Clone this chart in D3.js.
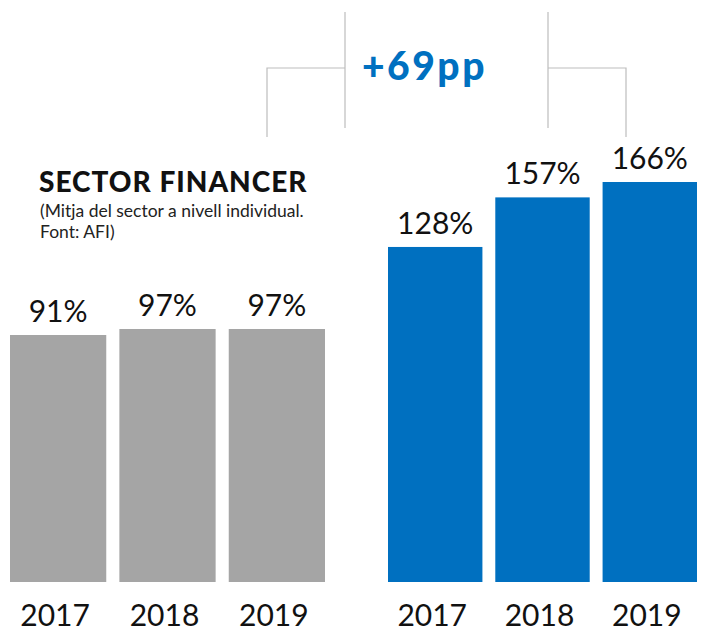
<!DOCTYPE html>
<html>
<head>
<meta charset="utf-8">
<script src="https://cdn.jsdelivr.net/npm/d3@7"></script>
<style>
  html, body { margin: 0; padding: 0; background: #fff; }
  svg { display: block; font-family: Lato, "Noto Sans", sans-serif; }
</style>
</head>
<body>
<div id="chart"></div>
<script>
const years = ['2017', '2018', '2019'];
const sectorValues = [91, 97, 97];      // grey, sector average
const companyValues = [128, 157, 166];  // blue
const diffLabel = '+69pp';
const titleText = 'SECTOR FINANCER';
const noteLines = ['(Mitja del sector a nivell individual.', 'Font: AFI)'];

const width = 702, height = 633;
const baseline = 582;

const svg = d3.select('#chart').append('svg')
  .attr('width', width)
  .attr('height', height);

// each panel has its own scale, the infographic does not start bars at zero
const panels = [
  {
    values: sectorValues,
    color: '#a5a5a5',
    x: d3.scaleBand().domain(years).range([10, 325]).paddingInner(0.12),
    y: d3.scaleLinear().domain([-156, 97]).range([baseline, 329])
  },
  {
    values: companyValues,
    color: '#0070c0',
    x: d3.scaleBand().domain(years).range([388, 697]).paddingInner(0.12),
    y: d3.scaleLinear().domain([-68, 166]).range([baseline, 182])
  }
];

panels.forEach(p => {
  const g = svg.append('g');
  const rows = years.map((yr, i) => ({ year: yr, value: p.values[i] }));

  g.selectAll('rect')
    .data(rows)
    .enter().append('rect')
    .attr('x', d => p.x(d.year))
    .attr('y', d => p.y(d.value))
    .attr('width', p.x.bandwidth())
    .attr('height', d => baseline - p.y(d.value))
    .attr('fill', p.color);

  // value labels above bars
  g.selectAll('text.val')
    .data(rows)
    .enter().append('text')
    .attr('class', 'val')
    .attr('x', d => p.x(d.year) + p.x.bandwidth() / 2)
    .attr('y', d => p.y(d.value) - 13)
    .attr('text-anchor', 'middle')
    .attr('font-size', 30)
    .attr('fill', '#111')
    .text(d => d.value + '%');

  // year labels under bars
  g.selectAll('text.year')
    .data(rows)
    .enter().append('text')
    .attr('class', 'year')
    .attr('x', d => p.x(d.year) + p.x.bandwidth() / 2 - 3)
    .attr('y', 626)
    .attr('text-anchor', 'middle')
    .attr('font-size', 30)
    .attr('fill', '#111')
    .text(d => d.year);
});

// title + note
svg.append('text')
  .attr('x', 39)
  .attr('y', 192)
  .attr('font-size', 28)
  .attr('font-weight', 900)
  .attr('letter-spacing', 1)
  .attr('fill', '#111')
  .text(titleText);

svg.selectAll('text.note')
  .data(noteLines)
  .enter().append('text')
  .attr('class', 'note')
  .attr('x', 40)
  .attr('y', (d, i) => 217 + i * 21)
  .attr('font-size', 17.5)
  .attr('fill', '#222')
  .text(d => d);

// bracket connecting the two groups
const bracket = [
  [[267, 137], [267, 68], [345, 68]],
  [[345, 12], [345, 128]],
  [[548, 12], [548, 128]],
  [[548, 68], [626, 68], [626, 137]]
];
svg.selectAll('path.bracket')
  .data(bracket)
  .enter().append('path')
  .attr('class', 'bracket')
  .attr('d', d3.line())
  .attr('fill', 'none')
  .attr('stroke', '#bdbdbd')
  .attr('stroke-width', 1.2);

svg.append('text')
  .attr('x', 362)
  .attr('y', 80)
  .attr('font-size', 39)
  .attr('font-weight', 900)
  .attr('letter-spacing', 2.5)
  .attr('fill', '#0070c0')
  .text(diffLabel);
</script>
</body>
</html>
